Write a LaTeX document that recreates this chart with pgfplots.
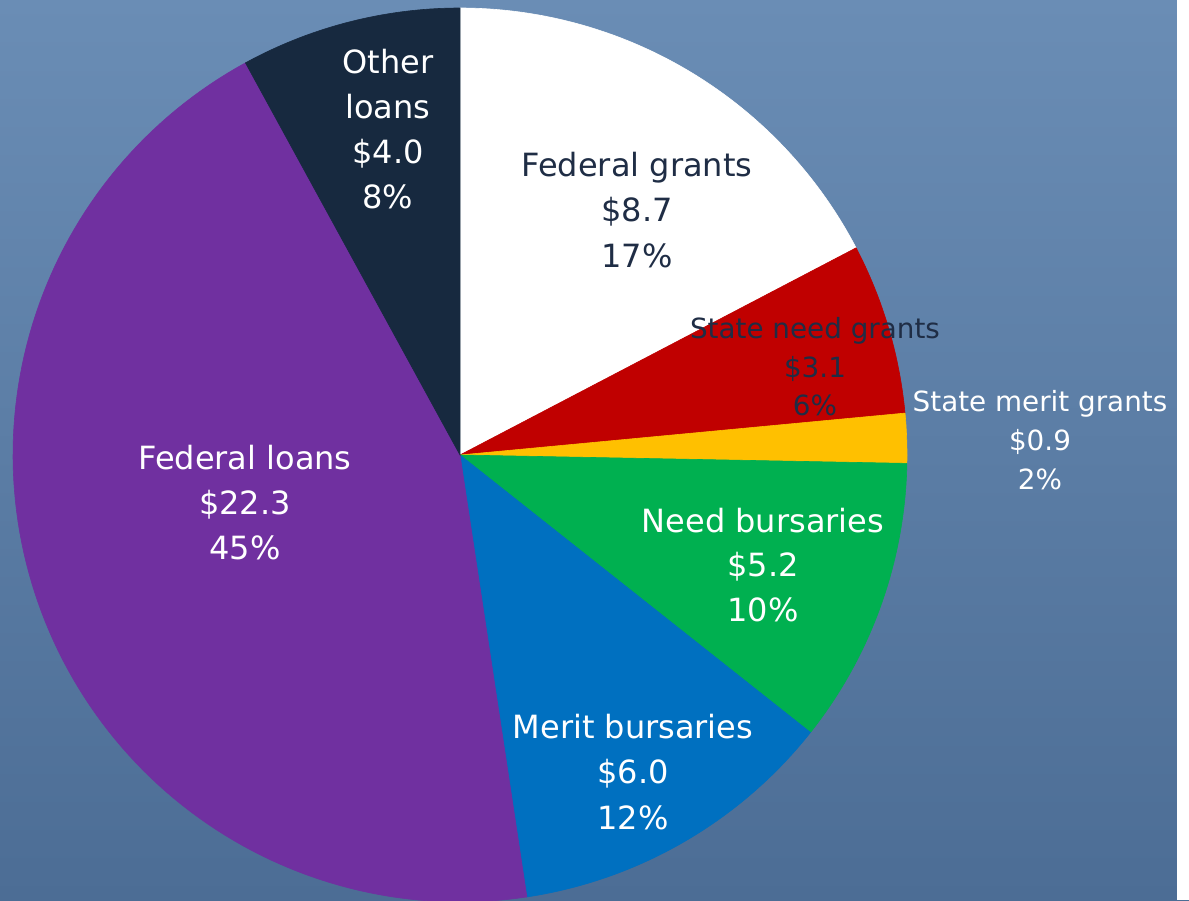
\documentclass[border=0pt]{standalone}
\usepackage{pgfplots}
\pgfplotsset{compat=1.18}
\usepackage{fontspec}
\setmainfont{DejaVu Sans}

\definecolor{bgtop}{HTML}{6A8DB5}
\definecolor{bgbot}{HTML}{4C6D95}
\definecolor{cred}{HTML}{C00000}
\definecolor{cgold}{HTML}{FFC000}
\definecolor{cgreen}{HTML}{00B050}
\definecolor{cblue}{HTML}{0070C0}
\definecolor{cpurple}{HTML}{7030A0}
\definecolor{cnavy}{HTML}{17293F}
\definecolor{ctext}{HTML}{1F2D45}

% values, billions of dollars (clockwise from 12 o'clock)
\def\vA{8.7}  % Federal grants
\def\vB{3.1}  % State need grants
\def\vC{0.9}  % State merit grants
\def\vD{5.2}  % Need bursaries
\def\vE{6.0}  % Merit bursaries
\def\vF{22.3} % Federal loans
\def\vG{4.0}  % Other loans

\pgfmathsetmacro\tot{\vA+\vB+\vC+\vD+\vE+\vF+\vG}
\pgfmathsetmacro\aA{90}
\pgfmathsetmacro\aB{\aA-360*\vA/\tot}
\pgfmathsetmacro\aC{\aB-360*\vB/\tot}
\pgfmathsetmacro\aD{\aC-360*\vC/\tot}
\pgfmathsetmacro\aE{\aD-360*\vD/\tot}
\pgfmathsetmacro\aF{\aE-360*\vE/\tot}
\pgfmathsetmacro\aG{\aF-360*\vF/\tot}
\pgfmathsetmacro\aH{\aG-360*\vG/\tot}

\def\cx{460}
\def\cy{-455}
\def\r{447}

\newcommand{\slice}[3]{%
  \addplot[fill=#1, draw=#1, line width=0.3pt, domain=#2:#3, samples=120, variable=\t]
    ({\cx+\r*cos(\t)},{\cy+\r*sin(\t)}) -- (axis cs:\cx,\cy) -- cycle;}

\tikzset{lbl/.style={align=center, inner sep=0pt}}

\begin{document}
\begin{tikzpicture}
\begin{axis}[
    width=594.5pt, height=450pt,
    scale only axis,
    xmin=0, xmax=1189, ymin=-900, ymax=0,
    hide axis,
    axis background/.style={top color=bgtop, bottom color=bgbot},
]
\addplot[fill=white, draw=none] coordinates {(1177,0) (1189,0) (1189,-900) (1177,-900)} -- cycle;
\slice{white}{\aB}{\aA}
\slice{cred}{\aC}{\aB}
\slice{cgold}{\aD}{\aC}
\slice{cgreen}{\aE}{\aD}
\slice{cblue}{\aF}{\aE}
\slice{cpurple}{\aG}{\aF}
\slice{cnavy}{\aH}{\aG}

\node[lbl, text=white, font=\fontsize{16}{22.4}\selectfont] at (axis cs:388,-129) {Other\\loans\\\$4.0\\8\%};
\node[lbl, text=ctext, font=\fontsize{16}{22.6}\selectfont] at (axis cs:637,-210) {Federal grants\\\$8.7\\17\%};
\node[lbl, text=ctext, font=\fontsize{13.9}{19.3}\selectfont] at (axis cs:815,-367) {State need grants\\\$3.1\\6\%};
\node[lbl, text=white, font=\fontsize{13.9}{19.6}\selectfont] at (axis cs:1040,-440) {State merit grants\\\$0.9\\2\%};
\node[lbl, text=white, font=\fontsize{16}{22.2}\selectfont] at (axis cs:763,-565) {Need bursaries\\\$5.2\\10\%};
\node[lbl, text=white, font=\fontsize{16}{22.7}\selectfont] at (axis cs:633,-772) {Merit bursaries\\\$6.0\\12\%};
\node[lbl, text=white, font=\fontsize{16}{22.5}\selectfont] at (axis cs:245,-503) {Federal loans\\\$22.3\\45\%};
\end{axis}
\end{tikzpicture}
\end{document}
